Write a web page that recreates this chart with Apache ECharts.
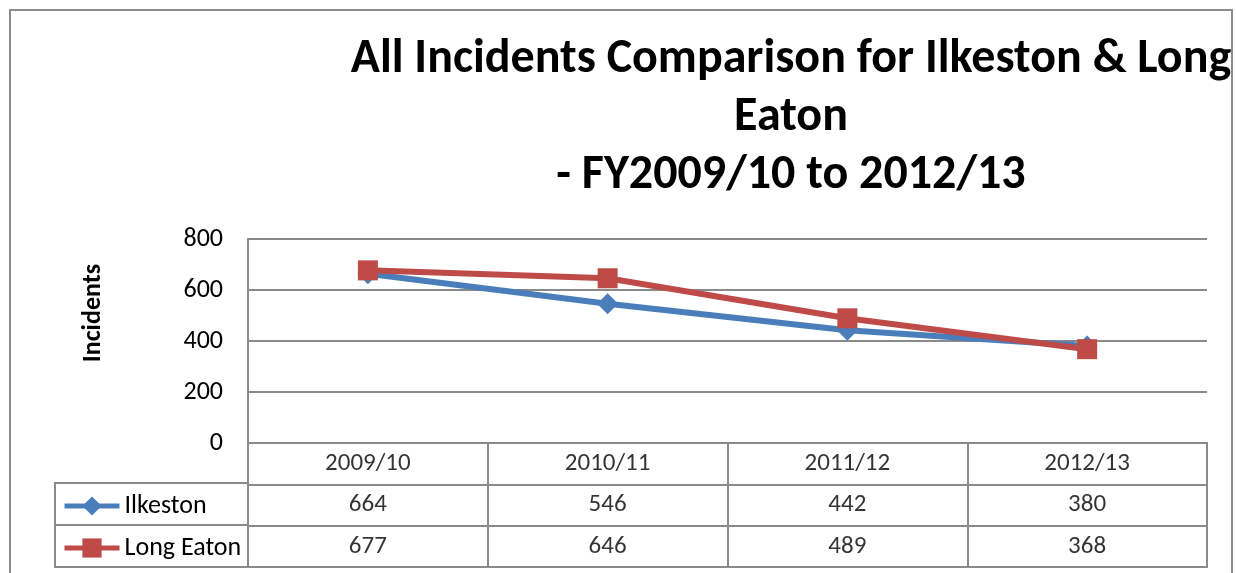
<!DOCTYPE html>
<html>
<head>
<meta charset="utf-8">
<script src="https://cdn.jsdelivr.net/npm/echarts@6/dist/echarts.min.js"></script>
<style>
  html, body { margin: 0; padding: 0; background: #fff; }
  #chart { width: 1236px; height: 573px; }
</style>
</head>
<body>
<div id="chart"></div>
<script>
// Financial years shown on the category axis and in the table header
const categories = ['2009/10', '2010/11', '2011/12', '2012/13'];
// Incident counts per station
const ilkeston = [664, 546, 442, 380];
const longEaton = [677, 646, 489, 368];
const seriesNames = ['Ilkeston', 'Long Eaton'];
// Value axis ticks
const yMin = 0, yMax = 800, yStep = 200;

const FONT = 'Calibri, Carlito, Lato, sans-serif';
const GRID_COLOR = '#8a8a8a';
const BLUE = '#4a7ebb';
const RED = '#be4b48';

// Cells of the data table: header row, then one row per series
const tableCells = [];
categories.forEach((c, i) => tableCells.push({ name: c, value: [i, 0] }));
[ilkeston, longEaton].forEach((vals, r) => {
  vals.forEach((v, i) => tableCells.push({ name: String(v), value: [i, r + 1] }));
});

const chart = echarts.init(document.getElementById('chart'), null, { renderer: 'canvas' });

chart.setOption({
  animation: false,
  backgroundColor: '#fff',
  textStyle: { fontFamily: FONT },
  title: {
    text: 'All Incidents Comparison for Ilkeston & Long\nEaton\n- FY2009/10 to 2012/13',
    left: 786,
    top: 26,
    textAlign: 'center',
    textStyle: { fontFamily: FONT, fontSize: 48, fontWeight: 'bold', color: '#000', lineHeight: 58 }
  },
  legend: {
    orient: 'vertical',
    left: 62,
    top: 493,
    padding: 0,
    itemWidth: 55,
    itemHeight: 24,
    itemGap: 16,
    data: seriesNames,
    lineStyle: { width: 5 },
    textStyle: { fontFamily: FONT, fontSize: 26, color: '#000', lineHeight: 26 }
  },
  grid: [
    { left: 248, top: 239, width: 959, height: 204 },
    { left: 248, top: 443, width: 959, height: 124, show: true, borderColor: GRID_COLOR, borderWidth: 2, backgroundColor: 'transparent' }
  ],
  xAxis: [
    {
      type: 'category', gridIndex: 0, data: categories, boundaryGap: true,
      axisLine: { show: true, lineStyle: { color: GRID_COLOR, width: 2 } },
      axisTick: { show: false }, axisLabel: { show: false }, splitLine: { show: false }
    },
    {
      type: 'category', gridIndex: 1, data: categories, boundaryGap: true,
      axisLine: { show: false }, axisTick: { show: false }, axisLabel: { show: false },
      splitLine: { show: true, interval: 0, lineStyle: { color: GRID_COLOR, width: 2 } }
    }
  ],
  yAxis: [
    {
      type: 'value', gridIndex: 0, min: yMin, max: yMax, interval: yStep,
      name: 'Incidents', nameLocation: 'middle', nameRotate: 90, nameGap: 142,
      nameTextStyle: { fontFamily: FONT, fontSize: 26, fontWeight: 'bold', color: '#000', padding: [0, 0, 0, 56] },
      axisLine: { show: true, lineStyle: { color: GRID_COLOR, width: 2 } },
      axisTick: { show: false },
      axisLabel: { fontFamily: FONT, fontSize: 26, color: '#000', margin: 25 },
      splitLine: { show: true, lineStyle: { color: GRID_COLOR, width: 2 } }
    },
    {
      type: 'category', gridIndex: 1, inverse: true, data: ['', ...seriesNames],
      axisLine: { show: false }, axisTick: { show: false }, axisLabel: { show: false },
      splitLine: { show: true, interval: 0, lineStyle: { color: GRID_COLOR, width: 2 } }
    }
  ],
  graphic: [
    // legend column of the data table
    { type: 'rect', shape: { x: 55, y: 483, width: 193, height: 84 }, style: { fill: 'none', stroke: GRID_COLOR, lineWidth: 2 }, z: 10 },
    { type: 'line', shape: { x1: 55, y1: 525, x2: 248, y2: 525 }, style: { stroke: GRID_COLOR, lineWidth: 2 }, z: 10 },
    // chart frame
    { type: 'rect', shape: { x: 10, y: 10, width: 1222, height: 620 }, style: { fill: 'none', stroke: '#8c8c8c', lineWidth: 2 }, z: 10 }
  ],
  series: [
    {
      name: seriesNames[0], type: 'line', xAxisIndex: 0, yAxisIndex: 0, data: ilkeston,
      symbol: 'diamond', symbolSize: 21,
      lineStyle: { color: BLUE, width: 6 }, itemStyle: { color: BLUE }
    },
    {
      name: seriesNames[1], type: 'line', xAxisIndex: 0, yAxisIndex: 0, data: longEaton,
      symbol: 'rect', symbolSize: 20,
      lineStyle: { color: RED, width: 6 }, itemStyle: { color: RED }
    },
    {
      name: 'table', type: 'scatter', xAxisIndex: 1, yAxisIndex: 1, data: tableCells,
      symbolSize: 1, itemStyle: { color: 'rgba(0,0,0,0)' }, silent: true,
      label: { show: true, position: 'inside', formatter: '{b}', fontFamily: FONT, fontSize: 25, color: '#000' }
    }
  ]
});
</script>
</body>
</html>
